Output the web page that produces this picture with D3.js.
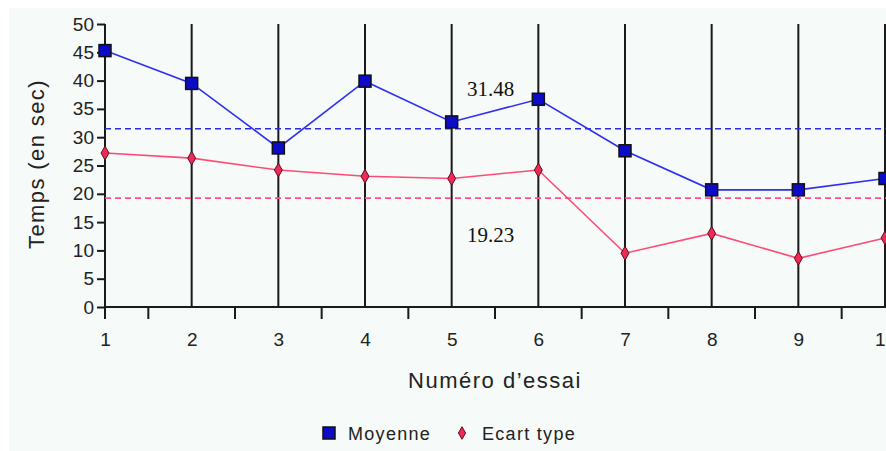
<!DOCTYPE html>
<html><head><meta charset="utf-8">
<script src="https://cdn.jsdelivr.net/npm/d3@7"></script>
<style>html,body{margin:0;padding:0;background:#fff;}svg{display:block;}</style>
</head><body>
<svg id="c" width="886" height="451"></svg>
<script>
const trials = [1,2,3,4,5,6,7,8,9,10];
const moyenne = [45.3,39.5,28.1,39.9,32.7,36.7,27.6,20.7,20.7,22.7];
const ecartType = [27.2,26.3,24.2,23.1,22.7,24.2,9.5,13.0,8.6,12.2];
const meanMoyenne = 31.48;
const meanEcart = 19.23;
const yTicks = [0,5,10,15,20,25,30,35,40,45,50];
const xLabel = "Numéro d\u2019essai";
const yLabel = "Temps (en sec)";
const seriesNames = ["Moyenne","Ecart type"];

const svg = d3.select("#c");
svg.append("rect").attr("x",9).attr("y",8).attr("width",877).attr("height",443).attr("fill","#f6faf8");

const x = d3.scaleLinear().domain([1,10]).range([105,885]);
const y = d3.scaleLinear().domain([0,50]).range([307,24]);
const sans = "'Liberation Sans', Arial, sans-serif";

// vertical grid lines
svg.append("g").selectAll("line").data(trials).join("line")
  .attr("x1",d=>x(d)).attr("x2",d=>x(d)).attr("y1",y(50)).attr("y2",y(0))
  .attr("stroke","#1a1a1a").attr("stroke-width",2);

// y axis
const yAxis = d3.axisLeft(y).tickValues(yTicks).tickSize(8).tickPadding(3);
const gy = svg.append("g").attr("transform",`translate(${x(1)},0)`).call(yAxis);
gy.select(".domain").remove();
gy.selectAll(".tick line").attr("stroke","#1a1a1a").attr("stroke-width",2);
gy.selectAll(".tick text").attr("font-family",sans).attr("font-size",19).attr("fill","#222");
svg.append("line").attr("x1",x(1)).attr("x2",x(1)).attr("y1",y(50)).attr("y2",y(0)+12).attr("stroke","#1a1a1a").attr("stroke-width",2);

// x axis
svg.append("line").attr("x1",x(1)).attr("x2",886).attr("y1",y(0)).attr("y2",y(0)).attr("stroke","#1a1a1a").attr("stroke-width",2);
const minor = trials.slice(0,-1).map(d=>d+0.5);
svg.append("g").selectAll("line").data(minor).join("line")
  .attr("x1",d=>x(d)).attr("x2",d=>x(d)).attr("y1",y(0)).attr("y2",y(0)+12)
  .attr("stroke","#1a1a1a").attr("stroke-width",2);
const xAxis = d3.axisBottom(x).tickValues(trials).tickFormat(d3.format("d")).tickSize(0).tickPadding(26);
const gx = svg.append("g").attr("transform",`translate(0,${y(0)})`).call(xAxis);
gx.select(".domain").remove();
gx.selectAll(".tick text").attr("font-family",sans).attr("font-size",19).attr("fill","#222");

// axis titles
svg.append("text").attr("x",495).attr("y",388).attr("text-anchor","middle")
  .attr("font-family",sans).attr("font-size",22).attr("letter-spacing",1.5).attr("fill","#222").text(xLabel);
svg.append("text").attr("transform","translate(44,164) rotate(-90)").attr("text-anchor","middle")
  .attr("font-family",sans).attr("font-size",22).attr("letter-spacing",1.4).attr("fill","#222").text(yLabel);

// mean lines
svg.append("line").attr("x1",x(1)).attr("x2",886).attr("y1",y(meanMoyenne)).attr("y2",y(meanMoyenne))
  .attr("stroke","#2a2ae6").attr("stroke-width",1.6).attr("stroke-dasharray","6,4");
svg.append("line").attr("x1",x(1)).attr("x2",886).attr("y1",y(meanEcart)).attr("y2",y(meanEcart))
  .attr("stroke","#ff5080").attr("stroke-width",1.6).attr("stroke-dasharray","6,4");

const serif = "'Liberation Serif', 'Times New Roman', serif";
svg.append("text").attr("x",467).attr("y",96).attr("font-family",serif).attr("font-size",21).attr("fill","#111").text(meanMoyenne.toFixed(2));
svg.append("text").attr("x",467).attr("y",242).attr("font-family",serif).attr("font-size",21).attr("fill","#111").text(meanEcart.toFixed(2));

// lines
const line = d3.line().x((d,i)=>x(trials[i])).y(d=>y(d));
svg.append("path").datum(moyenne).attr("d",line).attr("fill","none").attr("stroke","#2f2ff0").attr("stroke-width",1.6);
svg.append("path").datum(ecartType).attr("d",line).attr("fill","none").attr("stroke","#ff4a78").attr("stroke-width",1.6);

// markers
svg.append("g").selectAll("rect").data(moyenne).join("rect")
  .attr("x",(d,i)=>x(trials[i])-6).attr("y",d=>y(d)-6).attr("width",12).attr("height",12)
  .attr("fill","#0c0cc8").attr("stroke","#111").attr("stroke-width",1.5);
const diamond = d3.symbol().type(d3.symbolDiamond).size(55);
svg.append("g").selectAll("path").data(ecartType).join("path")
  .attr("transform",(d,i)=>`translate(${x(trials[i])},${y(d)})`).attr("d",diamond)
  .attr("fill","#ee2a55").attr("stroke","#5a1020").attr("stroke-width",1);

// legend
svg.append("rect").attr("x",323).attr("y",427).attr("width",12).attr("height",12)
  .attr("fill","#0c0cc8").attr("stroke","#111").attr("stroke-width",1.5);
svg.append("text").attr("x",348).attr("y",440).attr("font-family",sans).attr("font-size",18).attr("letter-spacing",1.3).attr("fill","#222").text(seriesNames[0]);
svg.append("path").attr("transform","translate(462,433)").attr("d",d3.symbol().type(d3.symbolDiamond).size(45))
  .attr("fill","#ee2a55").attr("stroke","#5a1020").attr("stroke-width",1);
svg.append("text").attr("x",482).attr("y",440).attr("font-family",sans).attr("font-size",18).attr("letter-spacing",1.3).attr("fill","#222").text(seriesNames[1]);
</script>
</body></html>
